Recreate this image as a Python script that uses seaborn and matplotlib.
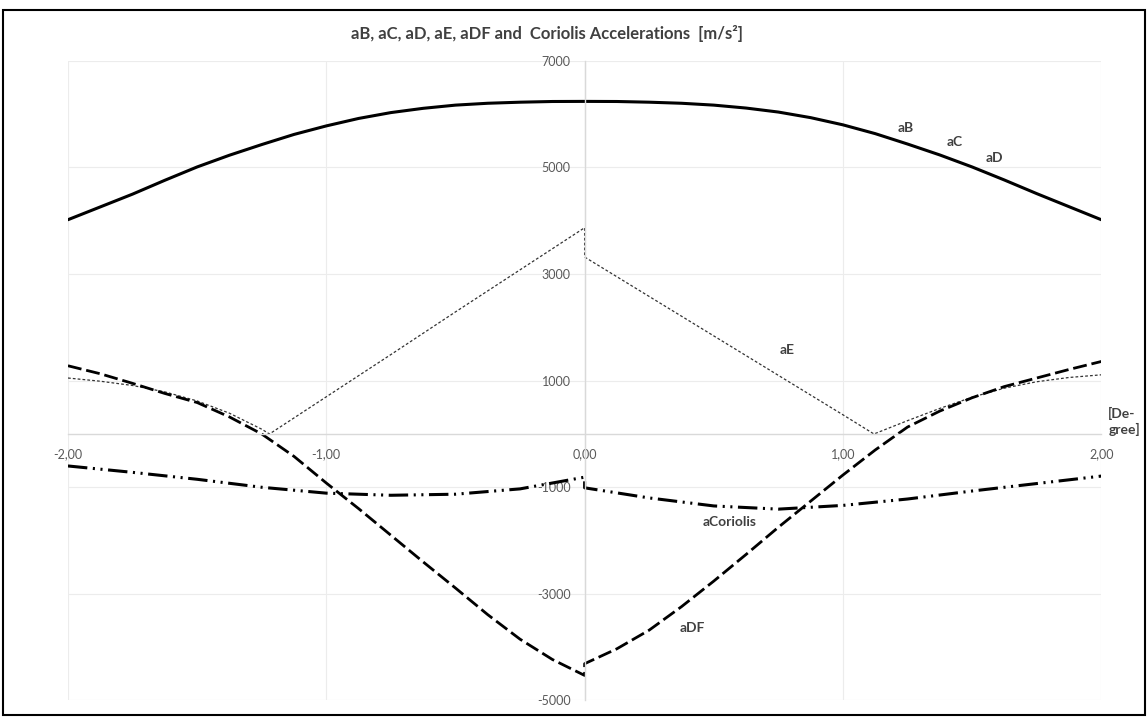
import matplotlib
matplotlib.use("Agg")
import matplotlib.pyplot as plt
import seaborn as sns
from matplotlib.patches import Rectangle

# crank angle [degree]
x_abcd = [-2, -1.875, -1.75, -1.625, -1.5, -1.375, -1.25, -1.125, -1, -0.875, -0.75, -0.625, -0.5,
          -0.375, -0.25, -0.125, 0, 0.125, 0.25, 0.375, 0.5, 0.625, 0.75, 0.875, 1, 1.125, 1.25,
          1.375, 1.5, 1.625, 1.75, 1.875, 2]
a_abcd = [4020, 4260, 4500, 4760, 5010, 5230, 5430, 5620, 5780, 5920, 6030, 6110, 6170,
          6205, 6225, 6238, 6240, 6238, 6225, 6205, 6170, 6115, 6040, 5935, 5800, 5635, 5440,
          5235, 5010, 4765, 4510, 4265, 4020]

x_e = [-2, -1.875, -1.75, -1.625, -1.5, -1.375, -1.25, -1.22, -0.75, -0.5, -0.25, 0, 0,
       0.25, 0.5, 0.75, 1, 1.12, 1.25, 1.375, 1.5, 1.625, 1.75, 1.875, 2]
a_e = [1050, 990, 910, 790, 620, 390, 90, 0, 1490, 2290, 3080, 3870, 3320,
       2580, 1840, 1100, 360, 0, 250, 480, 690, 860, 980, 1060, 1110]

x_df = [-2, -1.875, -1.75, -1.625, -1.5, -1.375, -1.25, -1.125, -1, -0.875, -0.75, -0.625, -0.5,
        -0.375, -0.25, -0.125, 0, 0, 0.125, 0.25, 0.375, 0.5, 0.625, 0.75, 0.875, 1, 1.125,
        1.25, 1.375, 1.5, 1.625, 1.75, 1.875, 2]
a_df = [1280, 1130, 950, 760, 590, 320, 0, -420, -920, -1400, -1900, -2400, -2890,
        -3390, -3850, -4230, -4530, -4310, -4030, -3680, -3240, -2760, -2260, -1750, -1260, -770, -300,
        130, 430, 680, 890, 1050, 1210, 1360]

x_cor = [-2, -1.75, -1.5, -1.25, -1, -0.75, -0.5, -0.25, 0, 0, 0.25, 0.5, 0.75, 1, 1.25, 1.5, 1.75, 2]
a_cor = [-600, -720, -850, -1000, -1110, -1150, -1130, -1030, -810, -1010, -1200, -1350, -1410, -1340, -1220, -1070, -930, -790]

y_ticks = [-5000, -3000, -1000, 1000, 3000, 5000, 7000]
x_ticks = [-2, -1, 0, 1, 2]
x_ticklabels = ["-2,00", "-1,00", "0,00", "1,00", "2,00"]

sns.set_theme(style="white")
plt.rcParams["font.family"] = ["Lato", "DejaVu Sans"]
plt.rcParams["lines.scale_dashes"] = False

fig = plt.figure(figsize=(11.48, 7.18), dpi=100)
ax = fig.add_axes([0.0592, 0.0244, 0.9001, 0.8908])

# solid = aB/aC/aD, dotted = aE, dashed = aDF, dash-dot-dot = Coriolis
sns.lineplot(x=x_abcd, y=a_abcd, ax=ax, estimator=None, sort=False,
             color="black", linewidth=2.2, linestyle="-")
sns.lineplot(x=x_e, y=a_e, ax=ax, estimator=None, sort=False,
             color="#333333", linewidth=0.9, linestyle=(0, (2, 1.5)))
sns.lineplot(x=x_df, y=a_df, ax=ax, estimator=None, sort=False,
             color="black", linewidth=2.0, linestyle=(0, (10, 3.5)))
sns.lineplot(x=x_cor, y=a_cor, ax=ax, estimator=None, sort=False,
             color="black", linewidth=2.2, linestyle=(0, (14, 4, 1.5, 4, 1.5, 4)))

ax.set_xlim(-2, 2)
ax.set_ylim(-5000, 7000)
ax.set_xticks(x_ticks)
ax.set_xticklabels(x_ticklabels)
ax.set_yticks(y_ticks)
ax.set_yticklabels([str(v) for v in y_ticks])
ax.set_xlabel("")
ax.set_ylabel("")

for s in ["top", "right"]:
    ax.spines[s].set_visible(False)
ax.spines["left"].set_position(("data", 0))
ax.spines["bottom"].set_position(("data", 0))
for s in ["left", "bottom"]:
    ax.spines[s].set_color("#d9d9d9")
    ax.spines[s].set_linewidth(1)
ax.tick_params(axis="both", length=0, labelsize=9, labelcolor="#595959")
ax.tick_params(axis="y", pad=10)
ax.tick_params(axis="x", pad=10)
ax.grid(True, color="#ececec", linewidth=0.8)
ax.set_axisbelow(True)

lab = dict(fontsize=10, fontweight="bold", color="#404040", ha="center", va="center")
ax.text(1.245, 5735, "aB", **lab)
ax.text(1.432, 5484, "aC", **lab)
ax.text(1.587, 5184, "aD", **lab)
ax.text(0.782, 1576, "aE", **lab)
ax.text(0.561, -1651, "aCoriolis", **lab)
ax.text(0.418, -3640, "aDF", **lab)
ax.annotate("[De-\ngree]", xy=(2, 0), xytext=(5, 9), textcoords="offset points",
            fontsize=10, fontweight="bold", color="#404040", ha="left", va="center",
            linespacing=1.2, annotation_clip=False)

fig.text(0.4765, 0.954, "aB, aC, aD, aE, aDF and  Coriolis Accelerations  [m/s²]",
         ha="center", va="center", fontsize=12, fontweight="bold", color="#404040")

fig.add_artist(Rectangle((0.003, 0.004), 0.994, 0.982, transform=fig.transFigure,
                         fill=False, edgecolor="black", linewidth=1.5))

fig.savefig("out.png", dpi=100)
